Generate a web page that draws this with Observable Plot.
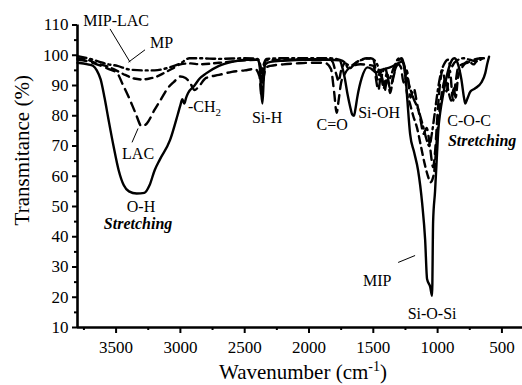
<!DOCTYPE html>
<html><head><meta charset="utf-8">
<script src="https://cdn.jsdelivr.net/npm/d3@7"></script>
<script src="https://cdn.jsdelivr.net/npm/@observablehq/plot@0.6"></script>
<style>html,body{margin:0;padding:0;background:#fff}svg{display:block}</style>
</head><body><div id="chart"></div>
<script>
// ---- data (wavenumber cm-1, transmittance %) ----
const mipWave = [3800,3720,3680,3650,3620,3590,3560,3520,3480,3440,3400,3340,3280,3240,3200,3160,3080,3020,3000,2985,2970,2955,2940,2890,2850,2800,2700,2600,2480,2400,2385,2372,2362,2352,2340,2300,2200,2000,1850,1760,1745,1720,1700,1680,1665,1650,1640,1625,1590,1545,1515,1480,1450,1410,1370,1300,1270,1253,1235,1214,1183,1152,1120,1097,1082,1058,1043,1035,1020,1004,995,980,957,918,887,870,845,815,795,785,770,745,710,660,630,615,600];
const mipT    = [97.5,97,96.5,95,92,86,79,70,62,57,55,54.3,54.5,57,62,65.5,72,80.5,83.5,85.5,84,86,87.5,90,92.3,94,96.5,97.8,98.5,98.5,97,88,84,92,97,97.8,98.2,98.5,98.5,98.3,96.6,92,87,83,80.5,80,82,86,92.5,96,95.5,94.3,95,95.5,96,97.5,98,95,85,74,68,62,51,39,26,23.5,20.5,45,55,68,75,81,87,95,98.5,99,97.5,92,86,84,85.5,88,89,91,94,97,99.5];

const lacWave = [3800,3720,3650,3560,3490,3450,3400,3350,3300,3260,3200,3150,3100,3050,3000,2960,2920,2890,2860,2800,2700,2600,2500,2420,2385,2368,2355,2330,2300,2200,2100,2000,1880,1830,1805,1785,1770,1750,1720,1680,1600,1500,1460,1440,1410,1390,1370,1345,1310,1285,1265,1240,1210,1185,1160,1130,1110,1085,1060,1035,1020,1000,980,960,930,905,880,860,840,810,770,720,660];
const lacT    = [98.5,98,97,95.5,94,90.5,86,81,76.5,77.5,82,85.5,89,91.2,93,92.5,90.5,88.5,89.5,92.5,93.5,94.5,95,95.5,93,86,92,96,96.5,97,97.3,97.5,97.5,95.5,88,81,85,91,94,96,97,96.5,88.5,93.5,88.5,93.5,87.5,92.5,97,96,91,95,86,89,84,78,74,76,70,63,68,81,91,95,88,95,85,91,96,97,97.5,98.5,99];

const mipLacWave = [3800,3720,3650,3580,3500,3430,3360,3300,3240,3180,3120,3060,3000,2920,2850,2700,2500,2400,2380,2365,2352,2330,2200,2000,1880,1820,1790,1770,1750,1720,1680,1620,1550,1500,1465,1445,1420,1395,1370,1340,1300,1280,1260,1240,1215,1190,1160,1130,1100,1075,1055,1040,1025,1010,990,965,940,915,895,875,860,840,800,760,720,680,640];
const mipLacT    = [99,98.5,97.3,96.5,95,93.5,92.3,92,92.3,93,94.3,95.6,97,97.3,97,97.5,98.3,98.5,96,91,96,98.3,98.5,98.7,98.7,98,94,91.5,95,97.3,96.5,98,99,98.5,92,95,89,94,89,94,98.5,99,96,88,84,80,76,70,64,60,58,59,62,70,80,88,92,88,85,89,86,93,96.6,98,97,99,99];

const mpWave = [3800,3720,3640,3560,3490,3400,3300,3200,3100,3000,2930,2850,2700,2500,2400,2380,2365,2352,2330,2200,2000,1850,1760,1720,1690,1670,1640,1600,1520,1470,1440,1410,1380,1340,1300,1275,1250,1220,1190,1150,1110,1085,1065,1045,1025,1000,975,950,920,895,870,840,800,750,700,650];
const mpT    = [99.7,99,98,97,96.5,95.3,95,95,95.8,97.3,99,99,98.8,99,98.8,97,94,97,98.8,99,99,99,98.5,97.5,95.5,96,97.3,98.3,99,97,93,96,92,96,99,98,95,90,86,82,76,72,70,74,80,88,94,97,98.5,96,97.5,98.5,99,98.5,98,99];

const xMajor = [3500,3000,2500,2000,1500,1000,500];
const xMinor = [3750,3250,2750,2250,1750,1250,750];
const yMajor = [10,20,30,40,50,60,70,80,90,100,110];
const yMinor = [15,25,35,45,55,65,75,85,95,105];

const labelText = ["MIP-LAC","MP","LAC","-CH2","Si-H","C=O","Si-OH","C-O-C","O-H","MIP","Si-O-Si"];
const labelWave = [3500,3146,3329,2812,2326,1820,1455,755,3306,1470,1043];
const labelT    = [111.5,104,67.5,83,79.4,77.1,81,78.4,50,25.5,14.6];

const stretchText = ["Stretching","Stretching"];
const stretchWave = [3329,654];
const stretchT    = [44.4,71.8];

const leaderW1 = [3547,3275,3376,1307];
const leaderT1 = [108.7,101.8,71.2,31.5];
const leaderW2 = [3391,3404,3329,1175];
const leaderT2 = [97.7,97.7,75.8,33.8];

// ---- build tables ----
const toRows = (w, t) => w.map((d, i) => ({w: d, t: t[i]}));
const mip = toRows(mipWave, mipT);
const lac = toRows(lacWave, lacT);
const mipLac = toRows(mipLacWave, mipLacT);
const mp = toRows(mpWave, mpT);
const labels = labelText.map((s, i) => ({s, w: labelWave[i], t: labelT[i]}));
const stretch = stretchText.map((s, i) => ({s, w: stretchWave[i], t: stretchT[i]}));
const leaders = leaderW1.map((d, i) => ({w1: d, t1: leaderT1[i], w2: leaderW2[i], t2: leaderT2[i]}));

const font = "'Liberation Serif', 'Times New Roman', serif";
const lineOpts = {x: "w", y: "t", stroke: "black", strokeWidth: 2.4, curve: "monotone-x"};

const plot = Plot.plot({
  width: 522, height: 385,
  marginLeft: 77, marginRight: 0, marginTop: 24.5, marginBottom: 58,
  style: {fontFamily: font, fontSize: "17px", color: "black", background: "white"},
  x: {domain: [3800, 340], label: null},
  y: {domain: [10, 110], label: null},
  marks: [
    Plot.axisY({ticks: yMajor, tickSize: 5, tickPadding: 4, strokeWidth: 2, tickFormat: d => String(d), label: null}),
    Plot.axisY({ticks: yMinor, tickSize: 3, strokeWidth: 2, tickFormat: () => "", label: null}),
    Plot.axisX({ticks: xMajor, tickSize: 6, tickPadding: 7, strokeWidth: 2, tickFormat: d => String(d), label: null}),
    Plot.axisX({ticks: xMinor, tickSize: 3, strokeWidth: 2, tickFormat: () => "", label: null}),
    Plot.line(mp, {...lineOpts, strokeDasharray: "9,4,2,4"}),
    Plot.line(mipLac, {...lineOpts, strokeDasharray: "7,5"}),
    Plot.line(lac, {...lineOpts, strokeDasharray: "9,6"}),
    Plot.line(mip, {...lineOpts}),
    Plot.ruleX([3800], {y1: 10, y2: 110, stroke: "black", strokeWidth: 2.6}),
    Plot.ruleY([10], {stroke: "black", strokeWidth: 2.6}),
    Plot.link(leaders, {x1: "w1", y1: "t1", x2: "w2", y2: "t2", stroke: "black", strokeWidth: 1}),
    Plot.text(labels, {x: "w", y: "t", text: "s", fontSize: 16, fill: "black"}),
    Plot.text(stretch, {x: "w", y: "t", text: "s", fontSize: 16, fontWeight: "bold", fontStyle: "italic", fill: "black"}),
    Plot.text(["Wavenumber (cm-1)"], {frameAnchor: "bottom", textAnchor: "middle", lineAnchor: "middle", dx: 3, dy: 45, fontSize: 21, fill: "black"}),
    Plot.text(["Transmitance (%)"], {frameAnchor: "left", textAnchor: "middle", lineAnchor: "middle", dx: -55, dy: -26, rotate: -90, fontSize: 21, fill: "black"})
  ]
});

d3.select(plot).selectAll("text").each(function() {
  const t = this.textContent;
  const sel = d3.select(this);
  if (t === "-CH2") {
    sel.text("-CH");
    sel.append("tspan").attr("dy", "4").attr("font-size", "11").text("2");
  } else if (t === "Wavenumber (cm-1)") {
    sel.text("Wavenumber (cm");
    sel.append("tspan").attr("dy", "-8").attr("font-size", "14").text("-1");
    sel.append("tspan").attr("dy", "8").text(")");
  }
});

document.getElementById("chart").appendChild(plot);
</script>
</body></html>
